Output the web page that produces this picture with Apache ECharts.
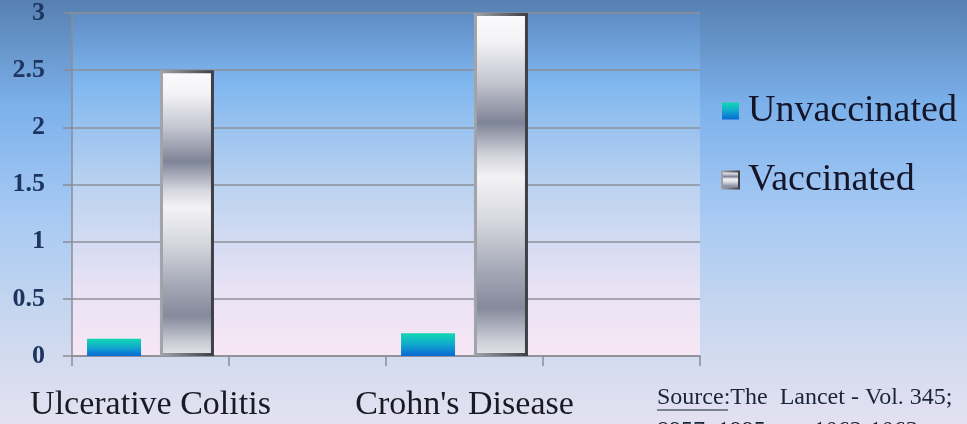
<!DOCTYPE html>
<html>
<head>
<meta charset="utf-8">
<script src="https://cdn.jsdelivr.net/npm/echarts@6/dist/echarts.min.js"></script>
<style>html,body{margin:0;padding:0;}#c{width:967px;height:424px;}</style>
</head>
<body>
<div id="c"></div>
<script>
const categories = ['Ulcerative Colitis', "Crohn's Disease"];
const unvaccinated = [0.15, 0.2];
const vaccinated = [2.5, 3.0];
const yTicks = [0, 0.5, 1, 1.5, 2, 2.5, 3];
const seriesNames = ['Unvaccinated', 'Vaccinated'];
const sourceLine1 = 'The  Lancet - Vol. 345;';
const sourceLine2 = '8957; 1995, pp. 1062-1063';

// Each category is followed by an empty slot, as in the original chart
const axisCats = [];
const unvacData = [];
const vacData = [];
categories.forEach((c, i) => {
  axisCats.push(c, '');
  unvacData.push(unvaccinated[i], null);
  vacData.push(vaccinated[i], null);
});

const serif = '"Liberation Serif", "DejaVu Serif", serif';
const G = echarts.graphic.LinearGradient;

const chart = echarts.init(document.getElementById('c'));
chart.setOption({
  backgroundColor: new G(0, 0, 0, 1, [
    {offset: 0, color: '#5780b1'},
    {offset: 0.25, color: '#7cb1eb'},
    {offset: 0.5, color: '#a6c9f3'},
    {offset: 0.75, color: '#c8d7ef'},
    {offset: 1, color: '#e4e1f1'}
  ]),
  animation: false,
  grid: {
    left: 72, right: 267, top: 10, bottom: 68,
    show: true, borderWidth: 0,
    backgroundColor: new G(0, 0, 0, 1, [
      {offset: 0, color: '#5f8cc4'},
      {offset: 0.2, color: '#7fb6ef'},
      {offset: 0.5, color: '#bad2f0'},
      {offset: 0.8, color: '#e8e2f4'},
      {offset: 1, color: '#f7e7f5'}
    ])
  },
  legend: {
    orient: 'vertical',
    left: 721, top: 92, padding: 0,
    itemWidth: 17, itemHeight: 17,
    itemGap: 31,
    icon: 'rect',
    textStyle: {fontFamily: serif, fontSize: 38, color: '#15152a', padding: [0, 0, 0, 4]},
    data: seriesNames
  },
  xAxis: {
    type: 'category',
    data: axisCats,
    boundaryGap: true,
    axisLine: {lineStyle: {color: '#8c8c94', width: 1.5}},
    axisTick: {show: true, length: 10, interval: 0, lineStyle: {color: '#8c8c94', width: 1.5}},
    axisLabel: {interval: 0, margin: 32, fontFamily: serif, fontSize: 34, color: '#1a1a24'},
    splitLine: {show: false}
  },
  yAxis: {
    type: 'value',
    min: 0, max: 3, interval: 0.5,
    axisLine: {show: true, lineStyle: {color: '#8c8c94', width: 1.5}},
    axisTick: {show: true, length: 9, lineStyle: {color: '#8c8c94', width: 1.5}},
    axisLabel: {margin: 27, fontFamily: serif, fontSize: 26, fontWeight: 'bold', color: '#1d3560',
      formatter: v => yTicks.indexOf(v) >= 0 ? String(v) : ''},
    splitLine: {lineStyle: {color: '#8c9098', width: 1.5}}
  },
  series: [
    {
      name: seriesNames[0], type: 'bar', data: unvacData,
      barWidth: 54, barGap: '35%',
      itemStyle: {color: new G(0, 0, 0, 1, [
        {offset: 0, color: '#12d8b2'},
        {offset: 0.5, color: '#10a8cc'},
        {offset: 1, color: '#0a68d6'}
      ])}
    },
    {
      name: seriesNames[1], type: 'bar', data: vacData,
      barWidth: 54,
      itemStyle: {
        color: new G(0, 0, 0, 1, [
          {offset: 0, color: '#fbfbfd'},
          {offset: 0.08, color: '#f4f4f7'},
          {offset: 0.2, color: '#c4c6d0'},
          {offset: 0.32, color: '#7e8497'},
          {offset: 0.42, color: '#d6d7de'},
          {offset: 0.48, color: '#f3f3f5'},
          {offset: 0.6, color: '#d8d9e0'},
          {offset: 0.76, color: '#a2a6b4'},
          {offset: 0.86, color: '#858a9c'},
          {offset: 0.95, color: '#c8cad3'},
          {offset: 1, color: '#e6e6ea'}
        ]),
        borderColor: new G(0, 0, 1, 0, [
          {offset: 0, color: '#a4a6ae'},
          {offset: 1, color: '#3c3c44'}
        ]),
        borderWidth: 3
      }
    }
  ],
  graphic: [
    {
      type: 'text', left: 657, top: 386,
      style: {
        text: '{u|Source}{n|:' + sourceLine1 + '}\n{n|' + sourceLine2 + '}',
        rich: {
          u: {fontFamily: serif, fontSize: 24, fill: '#1a2438', lineHeight: 33},
          n: {fontFamily: serif, fontSize: 24, fill: '#1a2438', lineHeight: 33}
        }
      }
    },
    {
      type: 'line', shape: {x1: 657, y1: 410, x2: 728, y2: 410},
      style: {stroke: '#1a2438', lineWidth: 1.2}
    }
  ]
});
</script>
</body>
</html>
